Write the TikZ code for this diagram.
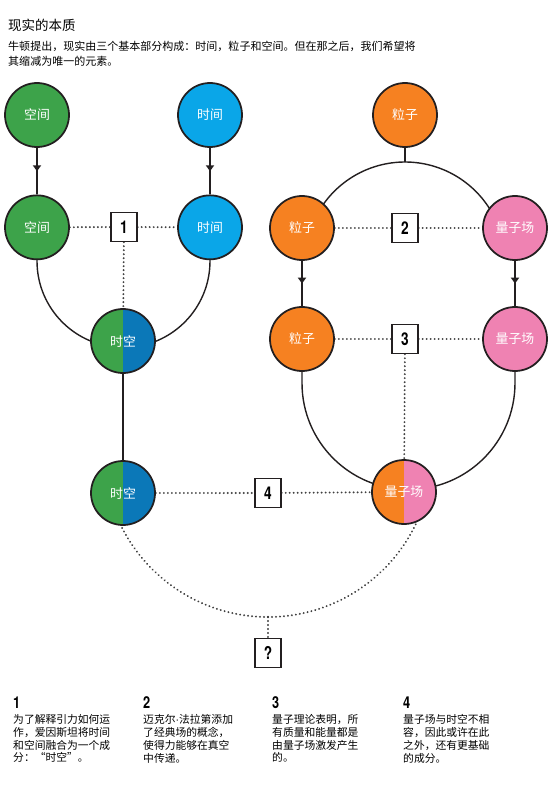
\documentclass[tikz,border=0pt]{standalone}
\usepackage{fontspec}
\setmainfont{Noto Sans CJK SC}
\newfontfamily\numfont[FakeStretch=0.78]{TeX Gyre Heros}
\newfontfamily\latinfont{Liberation Sans}
\usetikzlibrary{positioning,arrows.meta,decorations.markings,backgrounds}

\definecolor{kgreen}{HTML}{3DA34A}
\definecolor{kcyan}{HTML}{0AA6E8}
\definecolor{kblue}{HTML}{0B78B8}
\definecolor{korange}{HTML}{F68121}
\definecolor{kpink}{HTML}{EF82B2}
\definecolor{kline}{HTML}{231F20}

\begin{document}
\begin{tikzpicture}[x=0.03cm, y=0.03cm, node distance=3.37cm,
    ball/.style={circle, draw=kline, line width=1.5pt, minimum size=1.92cm, inner sep=0pt,
      text=white, font=\fontsize{11}{11}\selectfont},
    halfball/.style 2 args={ball, path picture={
      \fill[#1] (path picture bounding box.south west) rectangle (path picture bounding box.north);
      \fill[#2] (path picture bounding box.south) rectangle (path picture bounding box.north east);}},
    numbox/.style={rectangle, draw=kline, fill=white, line width=1.2pt, minimum width=0.78cm,
      minimum height=0.87cm, inner sep=0pt, font=\numfont\bfseries\fontsize{15}{15}\selectfont},
    dots/.style={line width=1.8pt, dash pattern=on 0.01pt off 3.4pt, line cap=round, black!75},
    link/.style={line width=1.2pt, kline},
    midarrow/.style={link, postaction={decorate}, decoration={markings,
      mark=at position 0.5 with {\arrow{Triangle[width=7pt,length=5pt]}}}},
    note/.style={anchor=north west, inner sep=0pt, align=left,
      font=\fontsize{9.2}{11}\selectfont},
    notenum/.style={anchor=south west, inner sep=0pt, font=\numfont\bfseries\fontsize{14}{14}\selectfont}]

  \useasboundingbox (0,0) rectangle (550,-812);

  % heading
  \node (title) [anchor=west, inner sep=0pt, font=\fontsize{11.5}{11.5}\selectfont] at (8,-25) {现实的本质};
  \node (intro) [anchor=north west, inner sep=0pt, align=left, font=\fontsize{9.4}{12.8}\selectfont] at (8,-41)
    {牛顿提出，现实由三个基本部分构成：时间，粒子和空间。但在那之后，我们希望将\\其缩减为唯一的元素。};

  % space and time
  \node (sp1) [ball, fill=kgreen] at (37,-115) {空间};
  \node (sp2) [ball, fill=kgreen, below of=sp1] {空间};
  \node (ti1) [ball, fill=kcyan] at (210,-115) {时间};
  \node (ti2) [ball, fill=kcyan, below of=ti1] {时间};
  \node (b1) [numbox] at (124,-227) {1};
  \node (st1) [halfball={kgreen}{kblue}] at (123,-341) {时空};
  \node (st2) [halfball={kgreen}{kblue}] at (123,-493) {时空};

  % particles and fields
  \node (pa1) [ball, fill=korange] at (405,-115) {粒子};
  \node (pa2) [ball, fill=korange] at (302,-228) {粒子};
  \node (pa3) [ball, fill=korange] at (302,-339) {粒子};
  \node (fi2) [ball, fill=kpink] at (515,-228) {量子场};
  \node (fi3) [ball, fill=kpink] at (515,-339) {量子场};
  \node (b2) [numbox] at (405,-228) {2};
  \node (b3) [numbox] at (405,-339) {3};
  \node (qf) [halfball={korange}{kpink}] at (404,-492) {量子场};

  \node (b4) [numbox] at (268,-493) {4};
  \node (bq) [numbox] at (268,-653) {?};

  \coordinate (ptop) at (405,-162);
  \coordinate (qbot) at (268,-617);

  \begin{scope}[on background layer]
    \draw[midarrow] (sp1) -- (sp2);
    \draw[midarrow] (ti1) -- (ti2);
    \draw[link] (sp2) -- (37,-261) arc[start angle=180, end angle=360, radius=86.5] -- (ti2);
    \draw[link] (st1) -- (st2);
    \draw[dots] (sp2) -- (b1) -- (ti2);
    \draw[dots] (b1) -- (st1);

    \draw[link] (pa1) -- (ptop);
    \draw[link] (ptop) arc[start angle=90, end angle=150, radius=100];
    \draw[link] (ptop) arc[start angle=90, end angle=30, radius=100];
    \draw[midarrow] (pa2) -- (pa3);
    \draw[midarrow] (fi2) -- (fi3);
    \draw[link] (pa3) -- (302,-383) arc[start angle=180, end angle=360, radius=106.5] -- (fi3);
    \draw[dots] (pa2) -- (b2) -- (fi2);
    \draw[dots] (pa3) -- (b3) -- (fi3);
    \draw[dots] (b3) -- (qf);

    \draw[dots] (st2) -- (b4) -- (qf);
    \draw[dots] (qbot) arc[start angle=270, end angle=200, radius=164];
    \draw[dots] (qbot) arc[start angle=270, end angle=340, radius=164];
    \draw[dots] (qbot) -- (bq);
  \end{scope}

  % notes
  \node (n1) [notenum] at (13,-709) {1};
  \node (t1) [note] at (13,-714) {为了解释引力如何运\\作，爱因斯坦将时间\\和空间融合为一个成\\分：“时空”。};
  \node (n2) [notenum] at (143,-709) {2};
  \node (t2) [note] at (143,-714) {迈克尔{\latinfont ·}法拉第添加\\了经典场的概念，\\使得力能够在真空\\中传递。};
  \node (n3) [notenum] at (272,-709) {3};
  \node (t3) [note] at (272,-714) {量子理论表明，所\\有质量和能量都是\\由量子场激发产生\\的。};
  \node (n4) [notenum] at (403,-709) {4};
  \node (t4) [note] at (403,-714) {量子场与时空不相\\容，因此或许在此\\之外，还有更基础\\的成分。};
\end{tikzpicture}
\end{document}
